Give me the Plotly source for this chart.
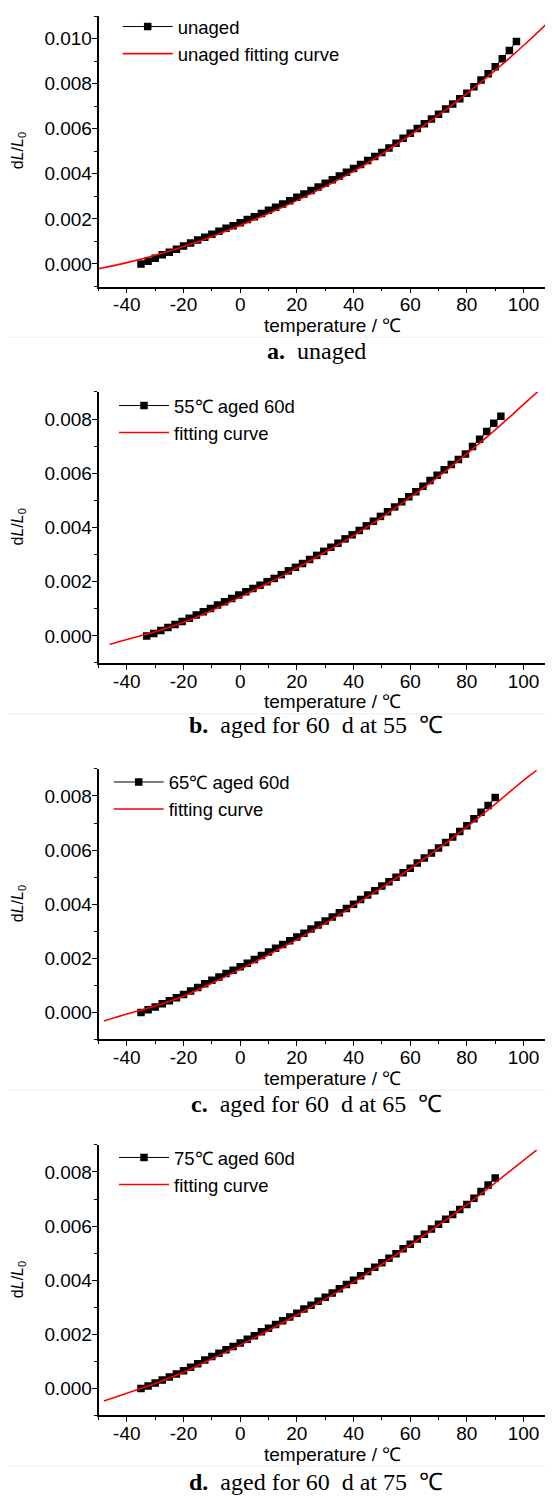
import plotly.graph_objects as go

# ---------------- data ----------------
temp_a = [-35, -32.5, -30, -27.5, -25, -22.5, -20, -17.5, -15, -12.5, -10, -7.5, -5, -2.5, 0,
          2.5, 5, 7.5, 10, 12.5, 15, 17.5, 20, 22.5, 25, 27.5, 30, 32.5, 35, 37.5, 40, 42.5,
          45, 47.5, 50, 52.5, 55, 57.5, 60, 62.5, 65, 67.5, 70, 72.5, 75, 77.5, 80, 82.5,
          85, 87.5, 90, 92.5, 95, 97.5]
dl_a = [0.00000, 0.00012, 0.00026, 0.00041, 0.00052, 0.00065, 0.00080, 0.00093, 0.00106,
        0.00119, 0.00132, 0.00145, 0.00158, 0.00170, 0.00183, 0.00197, 0.00210, 0.00224,
        0.00238, 0.00252, 0.00266, 0.00281, 0.00296, 0.00311, 0.00326, 0.00342, 0.00358,
        0.00374, 0.00390, 0.00407, 0.00424, 0.00441, 0.00459, 0.00477, 0.00495, 0.00515,
        0.00536, 0.00558, 0.00580, 0.00601, 0.00622, 0.00643, 0.00664, 0.00687, 0.00710,
        0.00733, 0.00757, 0.00786, 0.00816, 0.00844, 0.00875, 0.00910, 0.00947, 0.00987]
fit_temp_a = [-50, -40, -30, -20, -10, 0, 10, 20, 30, 40, 50, 60, 70, 80, 90, 100, 110]
fit_a = [-0.00021, 0.00006, 0.00039, 0.00078, 0.00121, 0.00171, 0.00224, 0.00281, 0.00343,
         0.00411, 0.00487, 0.00571, 0.00660, 0.00756, 0.00859, 0.00969, 0.01088]

temp_b = [-33, -30.5, -28, -25.5, -23, -20.5, -18, -15.5, -13, -10.5, -8, -5.5, -3, -0.5, 2,
          4.5, 7, 9.5, 12, 14.5, 17, 19.5, 22, 24.5, 27, 29.5, 32, 34.5, 37, 39.5, 42, 44.5,
          47, 49.5, 52, 54.5, 57, 59.5, 62, 64.5, 67, 69.5, 72, 74.5, 77, 79.5, 82, 84.5,
          87, 89.5, 92]
dl_b = [0.00000, 0.00009, 0.00020, 0.00031, 0.00042, 0.00053, 0.00065, 0.00077, 0.00089,
        0.00101, 0.00114, 0.00126, 0.00138, 0.00151, 0.00163, 0.00175, 0.00187, 0.00200,
        0.00212, 0.00226, 0.00240, 0.00253, 0.00267, 0.00282, 0.00297, 0.00312, 0.00327,
        0.00342, 0.00358, 0.00373, 0.00389, 0.00406, 0.00423, 0.00441, 0.00458, 0.00476,
        0.00495, 0.00513, 0.00532, 0.00552, 0.00573, 0.00593, 0.00613, 0.00632, 0.00651,
        0.00671, 0.00699, 0.00726, 0.00754, 0.00785, 0.00810]
fit_temp_b = [-46, -40, -30, -20, -10, 0, 10, 20, 30, 40, 50, 60, 70, 80, 90, 100, 105.2]
fit_b = [-0.00031, -0.00013, 0.00015, 0.00050, 0.00094, 0.00143, 0.00195, 0.00250, 0.00309,
         0.00370, 0.00437, 0.00511, 0.00588, 0.00672, 0.00760, 0.00854, 0.00903]

temp_c = [-35, -32.5, -30, -27.5, -25, -22.5, -20, -17.5, -15, -12.5, -10, -7.5, -5, -2.5, 0,
          2.5, 5, 7.5, 10, 12.5, 15, 17.5, 20, 22.5, 25, 27.5, 30, 32.5, 35, 37.5, 40, 42.5,
          45, 47.5, 50, 52.5, 55, 57.5, 60, 62.5, 65, 67.5, 70, 72.5, 75, 77.5, 80, 82.5,
          85, 87.5, 90]
dl_c = [0.00000, 0.00010, 0.00020, 0.00032, 0.00043, 0.00054, 0.00066, 0.00079, 0.00092,
        0.00106, 0.00119, 0.00131, 0.00144, 0.00156, 0.00169, 0.00182, 0.00196, 0.00210,
        0.00223, 0.00237, 0.00251, 0.00265, 0.00279, 0.00293, 0.00308, 0.00323, 0.00338,
        0.00353, 0.00368, 0.00384, 0.00400, 0.00417, 0.00434, 0.00450, 0.00467, 0.00483,
        0.00500, 0.00516, 0.00533, 0.00552, 0.00571, 0.00589, 0.00608, 0.00628, 0.00648,
        0.00669, 0.00690, 0.00716, 0.00740, 0.00765, 0.00794]
fit_temp_c = [-48.1, -40, -30, -20, -10, 0, 10, 20, 30, 40, 50, 60, 70, 80, 90, 100, 104.6]
fit_c = [-0.00032, -0.00006, 0.00024, 0.00060, 0.00108, 0.00159, 0.00213, 0.00269, 0.00329,
         0.00394, 0.00461, 0.00531, 0.00606, 0.00685, 0.00770, 0.00858, 0.00895]

temp_d = [-35, -32.5, -30, -27.5, -25, -22.5, -20, -17.5, -15, -12.5, -10, -7.5, -5, -2.5, 0,
          2.5, 5, 7.5, 10, 12.5, 15, 17.5, 20, 22.5, 25, 27.5, 30, 32.5, 35, 37.5, 40, 42.5,
          45, 47.5, 50, 52.5, 55, 57.5, 60, 62.5, 65, 67.5, 70, 72.5, 75, 77.5, 80, 82.5,
          85, 87.5, 90]
dl_d = [0.00000, 0.00009, 0.00020, 0.00031, 0.00042, 0.00053, 0.00065, 0.00078, 0.00091,
        0.00105, 0.00118, 0.00130, 0.00143, 0.00155, 0.00168, 0.00182, 0.00195, 0.00209,
        0.00222, 0.00236, 0.00250, 0.00264, 0.00278, 0.00293, 0.00307, 0.00322, 0.00337,
        0.00353, 0.00368, 0.00384, 0.00400, 0.00416, 0.00432, 0.00448, 0.00464, 0.00481,
        0.00498, 0.00516, 0.00533, 0.00552, 0.00570, 0.00589, 0.00607, 0.00625, 0.00643,
        0.00661, 0.00680, 0.00703, 0.00728, 0.00752, 0.00778]
fit_temp_d = [-48.1, -40, -30, -20, -10, 0, 10, 20, 30, 40, 50, 60, 70, 80, 90, 100, 104.6]
fit_d = [-0.00047, -0.00018, 0.00018, 0.00060, 0.00109, 0.00160, 0.00214, 0.00271, 0.00330,
         0.00393, 0.00459, 0.00529, 0.00603, 0.00679, 0.00760, 0.00843, 0.00881]

series_names = ["unaged", "55℃ aged 60d", "65℃ aged 60d", "75℃ aged 60d"]
fit_names = ["unaged fitting curve", "fitting curve", "fitting curve", "fitting curve"]
captions = ["<b>a.</b>  unaged", "<b>b.</b>  aged for 60  d at 55  ℃",
            "<b>c.</b>  aged for 60  d at 65  ℃", "<b>d.</b>  aged for 60  d at 75  ℃"]
y_ranges = [[-0.001, 0.011], [-0.001, 0.009], [-0.001, 0.009], [-0.001, 0.009]]
x_range = [-50, 110.4]
x_tick_vals = [-40, -20, 0, 20, 40, 60, 80, 100]
x_tick_text = ["-40", "-20", "0", "20", "40", "60", "80", "100"]
x_title = "temperature / ℃"
y_title = "d<i>L</i>/<i>L</i><sub>0</sub>"

temps = [temp_a, temp_b, temp_c, temp_d]
dls = [dl_a, dl_b, dl_c, dl_d]
fit_temps = [fit_temp_a, fit_temp_b, fit_temp_c, fit_temp_d]
fits = [fit_a, fit_b, fit_c, fit_d]

# ---------------- layout geometry (page pixels) ----------------
OFF = 8                      # default body margin of the page
PW, PH = 553, 1496           # page size
W, H = PW - OFF, PH - OFF    # figure size
plot_left = 98.5
plot_tops = [8.0, 386.0, 765.0, 1143.0]
plot_bots = [280.0, 658.5, 1037.0, 1415.0]
xtitle_y = [319, 697, 1076, 1454]
caption_y = [345, 721, 1102, 1482]
legend_line_x = [121.7, 118, 112.7, 118]
legend_row1 = [18.5, 400, 778.5, 1156]


def fx(px):
    return (px - OFF) / W


def fy(py):
    return 1 - (py - OFF) / H


NARROW = "Liberation Sans, Arial, sans-serif"
SERIF = "Liberation Serif, Times New Roman, serif"
FS = 19

fig = go.Figure()
annotations = []
shapes = []

for i in range(4):
    sfx = "" if i == 0 else str(i + 1)
    xa, ya = "x" + sfx, "y" + sfx
    leg = "legend" + sfx
    fig.add_trace(go.Scatter(
        x=temps[i], y=dls[i], mode="lines+markers", name=series_names[i],
        line=dict(color="black", width=1),
        marker=dict(symbol="square", size=7.5, color="black"),
        xaxis=xa, yaxis=ya, legend=leg))
    fig.add_trace(go.Scatter(
        x=fit_temps[i], y=fits[i], mode="lines", name=fit_names[i],
        line=dict(color="#ff0000", width=1.6, shape="spline"),
        xaxis=xa, yaxis=ya, legend=leg))

    top, bot = plot_tops[i], plot_bots[i]
    fig.layout["xaxis" + sfx] = dict(
        domain=[fx(plot_left), 1.0], range=x_range, anchor=ya,
        showline=True, linecolor="black", linewidth=1.5, showgrid=False, zeroline=False,
        ticks="outside", ticklen=5, tickwidth=1.2, tickcolor="black",
        tickmode="array", tickvals=x_tick_vals, ticktext=x_tick_text,
        ticklabelstandoff=-5,
        minor=dict(ticks="outside", ticklen=3, tickwidth=1.2, tickcolor="black", dtick=10, tick0=0),
        tickfont=dict(family=NARROW, size=FS, color="black"))
    fig.layout["yaxis" + sfx] = dict(
        domain=[fy(bot), fy(top)], range=y_ranges[i], anchor=xa,
        showline=True, linecolor="black", linewidth=1.5, showgrid=False, zeroline=False,
        ticks="outside", ticklen=5, tickwidth=1.2, tickcolor="black",
        tick0=0, dtick=0.002, tickformat=".3f", ticklabelstandoff=-4,
        minor=dict(ticks="outside", ticklen=3, tickwidth=1.2, tickcolor="black", dtick=0.001, tick0=0),
        tickfont=dict(family=NARROW, size=FS, color="black"))
    fig.layout[leg] = dict(
        x=fx(legend_line_x[i] - 4), y=fy(legend_row1[i] - 19), xanchor="left", yanchor="top",
        bgcolor="rgba(0,0,0,0)", borderwidth=0, itemwidth=50,
        font=dict(family=NARROW, size=18.5, color="black"), tracegroupgap=0,
        itemsizing="trace")

    annotations.append(dict(
        text=x_title, xref="paper", yref="paper", x=fx(332), y=fy(xtitle_y[i]),
        xanchor="center", yanchor="middle", showarrow=False,
        font=dict(family=NARROW, size=FS, color="black")))
    annotations.append(dict(
        text=y_title, xref="paper", yref="paper", x=fx(18), y=fy((top + bot) / 2),
        xanchor="center", yanchor="middle", showarrow=False, textangle=-90,
        font=dict(family=NARROW, size=16, color="black")))
    annotations.append(dict(
        text=captions[i], xref="paper", yref="paper", x=fx(316), y=fy(caption_y[i]),
        xanchor="center", yanchor="middle", showarrow=False,
        font=dict(family=SERIF, size=24, color="black")))
    sep = bot + 51
    shapes.append(dict(type="line", xref="paper", yref="paper", x0=0, x1=1,
                       y0=fy(sep), y1=fy(sep), line=dict(color="#eeeeee", width=1)))

fig.update_layout(
    width=W, height=H, margin=dict(l=0, r=0, t=0, b=0),
    paper_bgcolor="white", plot_bgcolor="white",
    annotations=annotations, shapes=shapes, showlegend=True)

fig.write_html("out.html")
